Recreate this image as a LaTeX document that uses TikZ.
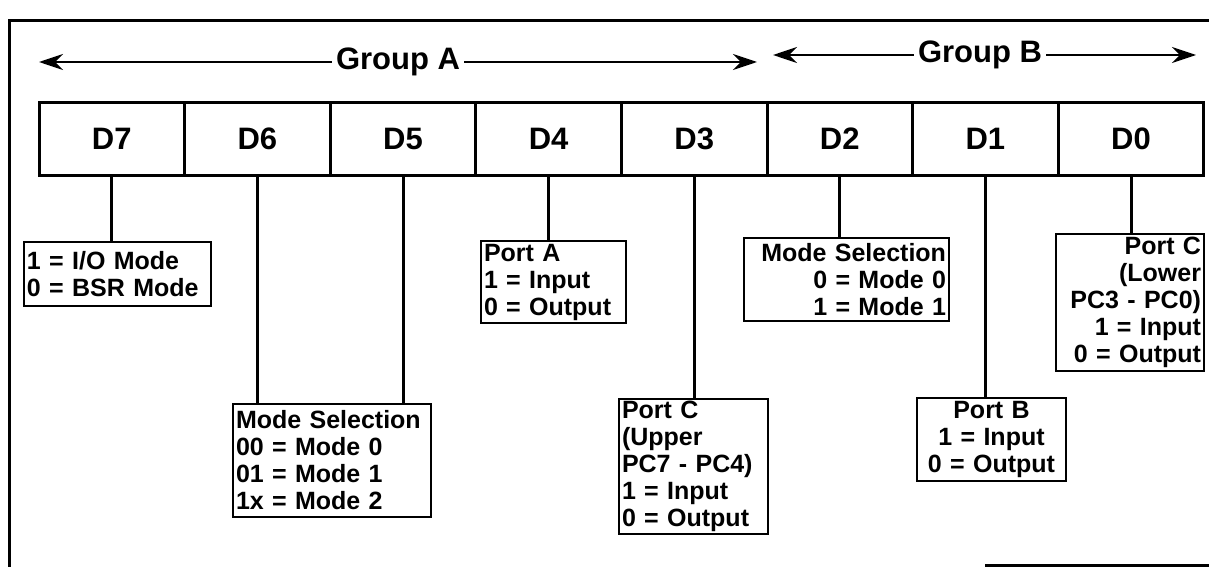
\documentclass[tikz,border=0pt]{standalone}
\usepackage{fontspec}
\setmainfont{Liberation Sans}
\usetikzlibrary{arrows.meta,positioning}

\begin{document}
\begin{tikzpicture}[
  x=1pt,y=-1pt,
  every node/.style={font=\fontsize{25}{27}\selectfont\bfseries},
  bit/.style={draw,line width=3pt,outer sep=0pt,minimum width=145.6pt,minimum height=72pt,font=\fontsize{31}{34}\selectfont\bfseries},
  note/.style={draw,line width=2pt,anchor=north west,inner xsep=3pt,inner ysep=2pt,outer sep=0pt},
  link/.style={line width=3pt},
  span/.style={-{Stealth[length=24pt,width=16pt]},line width=2.5pt},
  grp/.style={font=\fontsize{31}{34}\selectfont\bfseries,inner sep=4pt}
]
\useasboundingbox (0,0) rectangle (1209,567);
\draw[line width=3pt] (1209,21) -- (9,21) -- (9,567);
\draw[line width=3pt] (985,565) -- (1209,565);

\node[grp] (grpA) at (398,62) {Group A};
\node[grp] (grpB) at (980,55) {Group B};
\coordinate (aL) at (39,62);
\coordinate (aR) at (757,62);
\coordinate (bL) at (773,55);
\coordinate (bR) at (1196,55);
\draw[span] (grpA.west) -- (aL);
\draw[span] (grpA.east) -- (aR);
\draw[span] (grpB.west) -- (bL);
\draw[span] (grpB.east) -- (bR);

\node[bit,anchor=north west] (d7) at (39,103) {D7};
\node[bit,right=0pt of d7] (d6) {D6};
\node[bit,right=0pt of d6] (d5) {D5};
\node[bit,right=0pt of d5] (d4) {D4};
\node[bit,right=0pt of d4] (d3) {D3};
\node[bit,right=0pt of d3] (d2) {D2};
\node[bit,right=0pt of d2] (d1) {D1};
\node[bit,right=0pt of d1] (d0) {D0};

\node[note,text width=181pt,minimum height=64pt,align=left] (iomode) at (24,242)
  {1 = I/O Mode\\0 = BSR Mode};
\node[note,text width=192pt,minimum height=113pt,align=left] (modeA) at (233,404)
  {Mode Selection\\00 = Mode 0\\01 = Mode 1\\1x = Mode 2};
\node[note,text width=139pt,minimum height=82pt,align=left] (portA) at (481,241)
  {Port A\\1 = Input\\0 = Output};
\node[note,text width=143pt,minimum height=134pt,align=left] (portCu) at (619,399)
  {Port C\\(Upper\\PC7 - PC4)\\1 = Input\\0 = Output};
\node[note,text width=199pt,minimum height=83pt,align=right] (modeB) at (744,238)
  {Mode Selection\\0 = Mode 0\\1 = Mode 1};
\node[note,text width=143pt,minimum height=83pt,align=center] (portB) at (917,398)
  {Port B\\1 = Input\\0 = Output};
\node[note,text width=142pt,minimum height=137pt,align=right] (portCl) at (1056,234)
  {Port C\\(Lower\\PC3 - PC0)\\1 = Input\\0 = Output};

\draw[link] (d7.south) -- (d7.south |- iomode.north);
\draw[link] (d6.south) -- (d6.south |- modeA.north);
\draw[link] (d5.south) -- (d5.south |- modeA.north);
\draw[link] (d4.south) -- (d4.south |- portA.north);
\draw[link] (d3.south) -- (d3.south |- portCu.north);
\draw[link] (d2.south) -- (d2.south |- modeB.north);
\draw[link] (d1.south) -- (d1.south |- portB.north);
\draw[link] (d0.south) -- (d0.south |- portCl.north);
\end{tikzpicture}
\end{document}
